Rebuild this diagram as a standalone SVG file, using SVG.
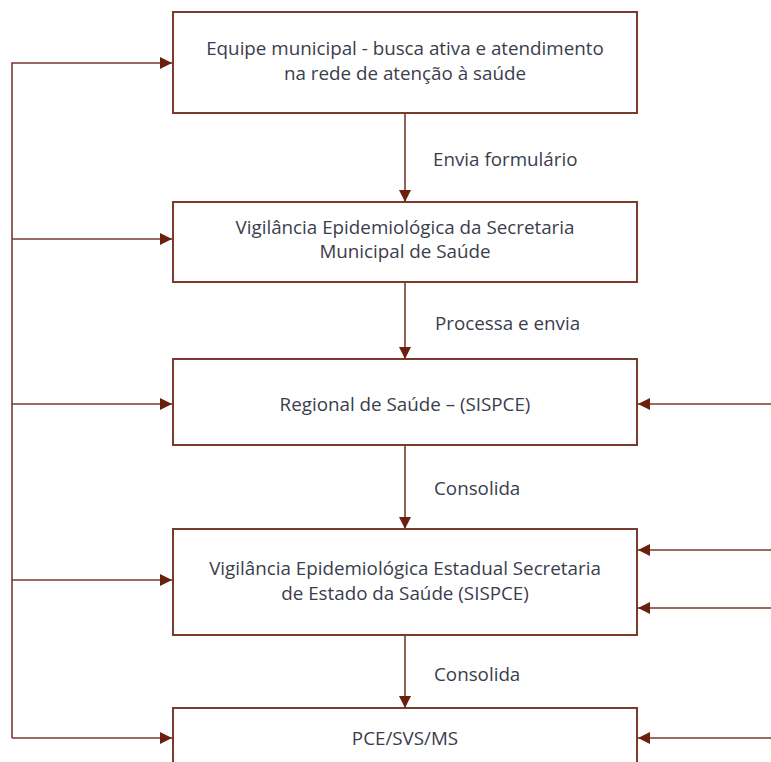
<svg xmlns="http://www.w3.org/2000/svg" width="771" height="762" viewBox="0 0 771 762">
<style>
.box{fill:#fff;stroke:#7a3a2c;stroke-width:2}
.ln{fill:none;stroke:#7a3a2c;stroke-width:1.6}
.t{font-family:"Open Sans","Noto Sans",sans-serif;font-size:18.8px;fill:#3a3d4c;text-anchor:middle}
.lb{font-family:"Open Sans","Noto Sans",sans-serif;font-size:18.8px;fill:#3a3d4c}
</style>
<defs>
<marker id="ah" markerWidth="12" markerHeight="12" viewBox="0 0 12 12" refX="12" refY="6" orient="auto" markerUnits="userSpaceOnUse">
<path d="M0,0 L12,6 L0,12 Z" fill="#6b1f10"/>
</marker>
</defs>
<g id="n1"><rect class="box" x="173" y="12" width="464" height="101"/>
<text class="t" x="405" y="55">Equipe municipal - busca ativa e atendimento</text>
<text class="t" x="405" y="80">na rede de atenção à saúde</text></g>
<g id="n2"><rect class="box" x="173" y="202" width="464" height="80"/>
<text class="t" x="405" y="234">Vigilância Epidemiológica da Secretaria</text>
<text class="t" x="405" y="258">Municipal de Saúde</text></g>
<g id="n3"><rect class="box" x="173" y="359" width="464" height="86"/>
<text class="t" x="405" y="411">Regional de Saúde – (SISPCE)</text></g>
<g id="n4"><rect class="box" x="173" y="529" width="464" height="106"/>
<text class="t" x="405" y="575">Vigilância Epidemiológica Estadual Secretaria</text>
<text class="t" x="405" y="600">de Estado da Saúde (SISPCE)</text></g>
<g id="n5"><rect class="box" x="173" y="708" width="464" height="80"/>
<text class="t" x="405" y="745">PCE/SVS/MS</text></g>
<g id="connectors">
<path class="ln" d="M405,113 V202" marker-end="url(#ah)"/>
<path class="ln" d="M405,282 V359" marker-end="url(#ah)"/>
<path class="ln" d="M405,445 V529" marker-end="url(#ah)"/>
<path class="ln" d="M405,635 V708" marker-end="url(#ah)"/>
<path class="ln" d="M12,738 V63 H172" marker-end="url(#ah)"/>
<path class="ln" d="M12,239 H172" marker-end="url(#ah)"/>
<path class="ln" d="M12,404 H172" marker-end="url(#ah)"/>
<path class="ln" d="M12,580 H172" marker-end="url(#ah)"/>
<path class="ln" d="M12,738 H172" marker-end="url(#ah)"/>
<path class="ln" d="M771,404 H638" marker-end="url(#ah)"/>
<path class="ln" d="M771,550 H638" marker-end="url(#ah)"/>
<path class="ln" d="M771,608 H638" marker-end="url(#ah)"/>
<path class="ln" d="M771,738 H638" marker-end="url(#ah)"/>
<text class="lb" x="433" y="166">Envia formulário</text>
<text class="lb" x="435" y="330">Processa e envia</text>
<text class="lb" x="434" y="495">Consolida</text>
<text class="lb" x="434" y="681">Consolida</text>
</g>
</svg>
